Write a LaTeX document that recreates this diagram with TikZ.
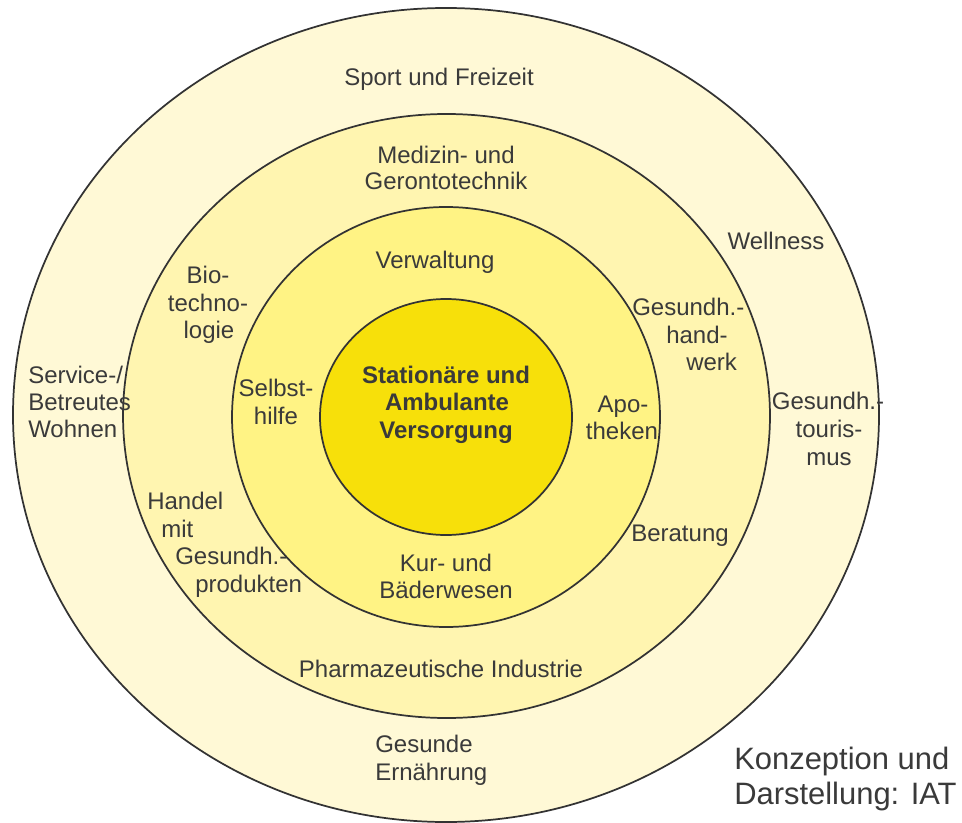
\documentclass[tikz,border=0pt]{standalone}
\usepackage{fontspec}
\setmainfont{Liberation Sans}
\usetikzlibrary{shapes.geometric}
\definecolor{ringA}{RGB}{255,249,214}
\definecolor{ringB}{RGB}{255,245,176}
\definecolor{ringC}{RGB}{255,243,132}
\definecolor{coreY}{RGB}{247,224,10}
\definecolor{lineG}{RGB}{51,51,51}
\definecolor{txtG}{RGB}{58,58,58}
\begin{document}
\begin{tikzpicture}[x=0.75pt,y=-0.75pt,
  ring/.style={ellipse,draw=lineG,line width=1.3pt,inner sep=0pt},
  lbl/.style={font=\fontsize{18pt}{20.6pt}\selectfont,text=txtG,inner sep=0pt,anchor=base},
  lblw/.style={lbl,anchor=base west},
  lblb/.style={lbl,font=\fontsize{18pt}{20.6pt}\selectfont\bfseries},
  credit/.style={font=\fontsize{23.2pt}{26pt}\selectfont,text=txtG,inner sep=0pt,anchor=base west}]
\fill[white] (0,0) rectangle (962,823);
\useasboundingbox (0,0) rectangle (962,823);
\node[ring,fill=ringA,minimum width=649.5pt,minimum height=610.5pt] (outer) at (446,415) {};
\node[ring,fill=ringB,minimum width=485.2pt,minimum height=453pt] (second) at (446.5,416) {};
\node[ring,fill=ringC,minimum width=321pt,minimum height=315pt] (third) at (446,417) {};
\node[ring,fill=coreY,minimum width=189pt,minimum height=177pt] (core) at (446,417) {};
% outer ring
\node[lbl] (sport) at (439,86) {Sport und Freizeit};
\node[lbl] (well) at (776,250) {Wellness};
\node[lblw] (serv1) at (28,383) {Service-/};
\node[lblw] (serv2) at (28,410) {Betreutes};
\node[lblw] (serv3) at (28,437) {Wohnen};
\node[lbl] (tour1) at (828,409) {Gesundh.-};
\node[lbl] (tour2) at (829,437) {touris-};
\node[lbl] (tour3) at (829,465) {mus};
\node[lblw] (ern1) at (375,752) {Gesunde};
\node[lblw] (ern2) at (375,780) {Ernährung};
% second ring
\node[lbl] (med1) at (446,164) {Medizin- und};
\node[lbl] (med2) at (446,190) {Gerontotechnik};
\node[lbl] (bio1) at (208,283) {Bio-};
\node[lbl] (bio2) at (208,311) {techno-};
\node[lbl] (bio3) at (209,338) {logie};
\node[lblw] (hw1) at (632,315) {Gesundh.-};
\node[lblw] (hw2) at (666,343) {hand-};
\node[lblw] (hw3) at (686,370) {werk};
\node[lblw] (han1) at (147,509) {Handel};
\node[lblw] (han2) at (161,537) {mit};
\node[lblw] (han3) at (175,564) {Gesundh.-};
\node[lblw] (han4) at (195,592) {produkten};
\node[lbl] (pharma) at (441,677) {Pharmazeutische Industrie};
% third ring
\node[lbl] (verw) at (435,269) {Verwaltung};
\node[lbl] (selb1) at (276,396) {Selbst-};
\node[lbl] (selb2) at (276,424) {hilfe};
\node[lbl] (apo1) at (623,412) {Apo-};
\node[lbl] (apo2) at (622,439) {theken};
\node[lbl] (berat) at (680,541) {Beratung};
\node[lbl] (kur1) at (446,571) {Kur- und};
\node[lbl] (kur2) at (446,598) {Bäderwesen};
% core
\node[lblb] (st1) at (446,383) {Stationäre und};
\node[lblb] (st2) at (447,410) {Ambulante};
\node[lblb] (st3) at (446,438) {Versorgung};
% credit
\node[credit] (cred1) at (734,769) {Konzeption und};
\node[credit] (cred2) at (734,804) {Darstellung: IAT};
\end{tikzpicture}
\end{document}
